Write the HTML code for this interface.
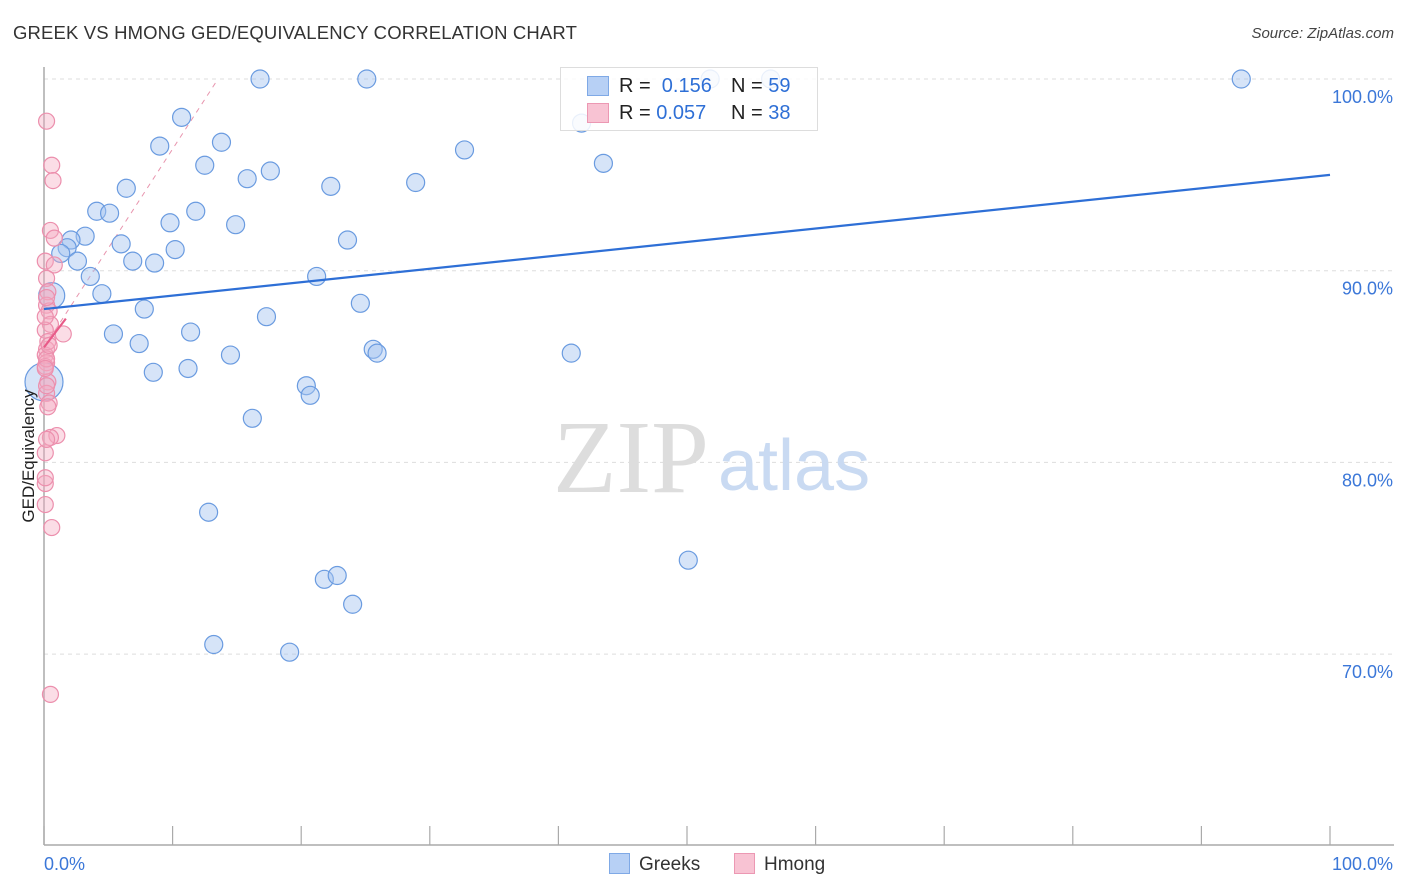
<!DOCTYPE html>
<html><head><meta charset="utf-8">
<style>
body{margin:0;background:#fff;font-family:"Liberation Sans",sans-serif;}
#wrap{position:relative;width:1406px;height:892px;overflow:hidden;}
.t{position:absolute;white-space:nowrap;}
</style></head>
<body>
<div id="wrap">
<div class="t" style="left:13px;top:22px;font-size:18.5px;color:#333;letter-spacing:0.15px">GREEK VS HMONG GED/EQUIVALENCY CORRELATION CHART</div>
<div class="t" style="right:12px;top:25px;font-size:15px;color:#444;font-style:italic">Source: ZipAtlas.com</div>
<svg id="plot" width="1406" height="892" style="position:absolute;left:0;top:0"></svg>
</div>
<script>
const yTicks=[100,90,80,70];
const yTickLabels=["100.0%","90.0%","80.0%","70.0%"];
const xTickLabels=["0.0%","100.0%"];
const greekX=[16.8,25.1,51.8,56.5,93.1,10.7,41.8,9.0,13.8,32.7,12.5,43.5,15.8,17.6,22.3,28.9,6.4,4.1,5.1,11.8,9.8,14.9,3.2,2.1,1.8,1.3,6.0,23.6,10.2,6.9,8.6,2.6,3.6,21.2,0.6,4.5,7.8,24.6,17.3,5.4,11.4,7.4,25.6,25.9,41.0,14.5,8.5,11.2,20.4,20.7,16.2,12.8,50.1,21.8,22.8,24.0,13.2,19.1,0.0];
const greekY=[100,100,100,100,100,98.0,97.7,96.5,96.7,96.3,95.5,95.6,94.8,95.2,94.4,94.6,94.3,93.1,93.0,93.1,92.5,92.4,91.8,91.6,91.2,90.9,91.4,91.6,91.1,90.5,90.4,90.5,89.7,89.7,88.7,88.8,88.0,88.3,87.6,86.7,86.8,86.2,85.9,85.7,85.7,85.6,84.7,84.9,84.0,83.5,82.3,77.4,74.9,73.9,74.1,72.6,70.5,70.1,84.2];
const greekR=[9,9,9,9,9,9,9,9,9,9,9,9,9,9,9,9,9,9,9,9,9,9,9,9,9,9,9,9,9,9,9,9,9,9,13,9,9,9,9,9,9,9,9,9,9,9,9,9,9,9,9,9,9,9,9,9,9,9,19];
const hmongX=[0.2,0.6,0.7,0.5,0.8,0.1,0.8,0.2,0.3,0.2,0.4,0.5,1.5,0.1,0.2,0.1,0.2,0.1,0.3,0.2,0.4,1.0,0.5,0.1,0.1,0.1,0.6,0.5,0.2,0.1,0.3,0.2,0.1,0.3,0.2,0.1,0.4,0.2];
const hmongY=[97.8,95.5,94.7,92.1,91.7,90.5,90.3,89.6,88.9,88.2,87.9,87.2,86.7,86.9,85.9,85.6,85.2,85.0,84.2,83.6,83.1,81.4,81.3,80.5,78.9,77.8,76.6,67.9,88.6,87.6,86.3,85.4,84.9,82.9,81.2,79.2,86.1,84.0];
const trendGreek=[88.0,95.0];
const trendHmong=[86.0,87.5];

const X0=44,X1=1330,Y100=79,PPP=19.17;
const sx=v=>X0+(X1-X0)*v/100;
const sy=v=>Y100+(100-v)*PPP;
const svg=document.getElementById('plot');
const NS='http://www.w3.org/2000/svg';
function mk(tag,attrs,parent){const e=document.createElementNS(NS,tag);for(const k in attrs)e.setAttribute(k,attrs[k]);(parent||svg).appendChild(e);return e;}

yTicks.forEach((v,i)=>{
 const g=mk('line',{x1:X0,x2:1394,y1:sy(v),y2:sy(v),stroke:'#ddd','stroke-dasharray':'4,4'});
 
 
 const t=mk('text',{x:1393,y:sy(v)+24,'text-anchor':'end','font-size':18,fill:'#3b77d8','font-family':'Liberation Sans, sans-serif'});
 t.textContent=yTickLabels[i];
 
 
});
let a=mk('line',{x1:X0,x2:X0,y1:67,y2:845,stroke:'#aaa','stroke-width':1.5});


a=mk('line',{x1:X0,x2:1394,y1:845,y2:845,stroke:'#aaa','stroke-width':1.5});


for(let i=0;i<=10;i++){
 const tk=mk('line',{x1:sx(i*10),x2:sx(i*10),y1:826,y2:845,stroke:'#aaa','stroke-width':1.2});
 
 
}
let w=mk('text',{x:553,y:492,'font-size':104,fill:'#ddd','font-family':'Liberation Serif, serif'});w.textContent='ZIP';


w=mk('text',{x:718,y:490,'font-size':72,fill:'#c9daf2','font-family':'Liberation Sans, sans-serif'});w.textContent='atlas';



let d=mk('line',{x1:sx(0),y1:sy(trendHmong[0]),x2:218,y2:sy(100),stroke:'#e895ae','stroke-width':1,'stroke-dasharray':'5,5'});



greekX.forEach((x,i)=>{
 const c=mk('circle',{cx:sx(x),cy:sy(greekY[i]),r:greekR[i],fill:'rgba(164,196,240,0.45)',stroke:'#6a9be0','stroke-width':1.2});
 
 
});
hmongX.forEach((x,i)=>{
 const c=mk('circle',{cx:sx(x),cy:sy(hmongY[i]),r:8,fill:'rgba(244,170,192,0.4)',stroke:'#ec8fad','stroke-width':1.2});
 
 
});
let l=mk('line',{x1:sx(0),y1:sy(trendGreek[0]),x2:sx(100),y2:sy(trendGreek[1]),stroke:'#2e6fd6','stroke-width':2.2});


l=mk('line',{x1:sx(0),y1:sy(trendHmong[0]),x2:sx(1.7),y2:sy(trendHmong[1]),stroke:'#e85a88','stroke-width':2.2});



let t=mk('text',{x:44,y:870,'font-size':18,fill:'#3b77d8','font-family':'Liberation Sans, sans-serif'});t.textContent=xTickLabels[0];


t=mk('text',{x:1393,y:870,'text-anchor':'end','font-size':18,fill:'#3b77d8','font-family':'Liberation Sans, sans-serif'});t.textContent=xTickLabels[1];


t=mk('text',{x:34,y:456,'text-anchor':'middle','font-size':17,fill:'#222',transform:'rotate(-90 34 456)','font-family':'Liberation Sans, sans-serif'});t.textContent='GED/Equivalency';


</script>
<div class="t" style="left:560px;top:67px;width:256px;height:62px;border:1px solid #ddd;background:rgba(255,255,255,0.85);font-size:20px;">
 <div style="position:absolute;left:26px;top:8px;width:20px;height:18px;background:#b7d0f5;border:1px solid #7fa9e6"></div>
 <div style="position:absolute;left:58px;top:7px;color:#222">R = <span style="color:#2e6fd6">&nbsp;0.156</span></div>
 <div style="position:absolute;left:170px;top:7px;color:#222">N = <span style="color:#2e6fd6">59</span></div>
 <div style="position:absolute;left:26px;top:35px;width:20px;height:18px;background:#f8c3d3;border:1px solid #ec98b3"></div>
 <div style="position:absolute;left:58px;top:34px;color:#222">R = <span style="color:#2e6fd6">0.057</span></div>
 <div style="position:absolute;left:170px;top:34px;color:#222">N = <span style="color:#2e6fd6">38</span></div>
</div>
<div class="t" style="left:609px;top:853px;font-size:19px;color:#333">
 <span style="display:inline-block;width:19px;height:19px;background:#b7d0f5;border:1px solid #7fa9e6;vertical-align:-4px;margin-right:9px"></span>Greeks</div>
<div class="t" style="left:734px;top:853px;font-size:19px;color:#333">
 <span style="display:inline-block;width:19px;height:19px;background:#f8c3d3;border:1px solid #ec98b3;vertical-align:-4px;margin-right:9px"></span>Hmong</div>
</body></html>
